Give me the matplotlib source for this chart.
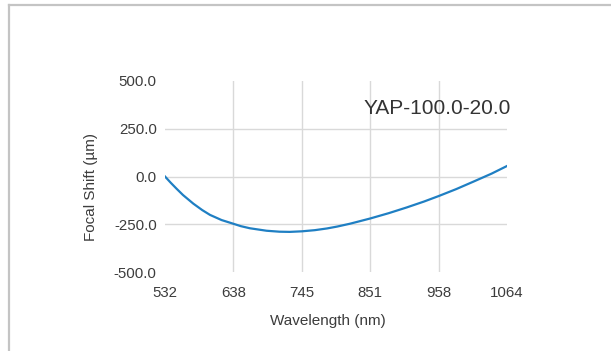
import matplotlib.pyplot as plt
from matplotlib.lines import Line2D

plt.rcParams['font.family'] = ['Liberation Sans', 'DejaVu Sans']

# focal shift curve
wavelength = [532, 541, 550, 560, 576, 590, 602, 620, 637, 650, 664, 690, 710, 726,
              745, 765, 784, 800, 820, 835, 851, 880, 908, 935, 958, 985, 1011, 1040, 1064]
shift = [0, -33, -64, -97, -142, -176, -201, -228, -246, -260, -271, -284, -289, -290,
         -287, -281, -272, -262, -247, -234, -220, -192, -162, -131, -102, -66, -28, 15, 55]

xticks = [532, 638.4, 744.8, 851.2, 957.6, 1064]
xtick_labels = ["532", "638", "745", "851", "958", "1064"]
yticks = [-500, -250, 0, 250, 500]
ytick_labels = ["-500.0", "-250.0", "0.0", "250.0", "500.0"]
title = "YAP-100.0-20.0"

fig = plt.figure(figsize=(6.11, 3.51), dpi=100)
ax = fig.add_axes([165/611, 1-272/351, 342/611, 191/351])

# outer frame, only the left and top edges show
fx, fy = 9/611, 1-5/351
fig.add_artist(Line2D([fx, fx], [0, fy], transform=fig.transFigure, color="#c4c4c4", linewidth=1.6))
fig.add_artist(Line2D([fx, 1], [fy, fy], transform=fig.transFigure, color="#c4c4c4", linewidth=1.6))

ax.plot(wavelength, shift, color="#1f7fc3", linewidth=1.6, zorder=3)

ax.set_xlim(532, 1064)
ax.set_ylim(-500, 500)
ax.set_xticks(xticks)
ax.set_xticklabels(xtick_labels)
ax.set_yticks(yticks)
ax.set_yticklabels(ytick_labels)
ax.tick_params(length=0, labelsize=10.8, colors="#3c3c3c")
ax.tick_params(axis="x", pad=10)
ax.tick_params(axis="y", pad=6)

for x in xticks[1:-1]:
    ax.axvline(x, color="#d9d9d9", linewidth=1, zorder=1)
for y in yticks[1:-1]:
    ax.axhline(y, color="#d9d9d9", linewidth=1, zorder=1)

for s in ax.spines.values():
    s.set_visible(False)

ax.set_xlabel("Wavelength (nm)", fontsize=11, color="#3c3c3c")
ax.set_ylabel("Focal Shift (µm)", fontsize=11, color="#3c3c3c")
ax.xaxis.set_label_coords(0.475, -0.22)
ax.yaxis.set_label_coords(-0.196, 0.447)

ax.text(364, 351-114, title, transform=None, fontsize=15, color="#333333",
        ha="left", va="baseline")

fig.savefig("out.png", dpi=100)
